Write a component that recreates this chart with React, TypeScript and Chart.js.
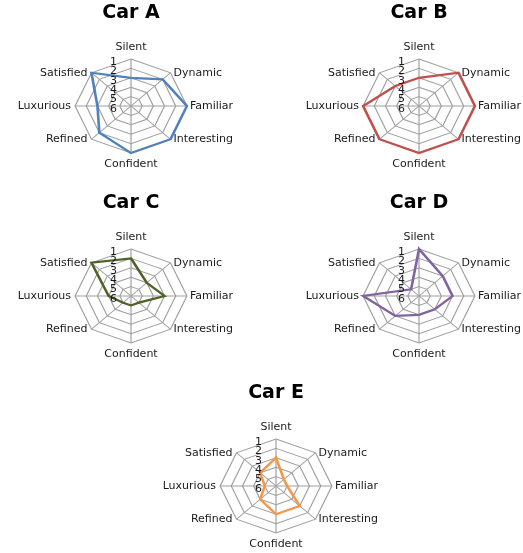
import React, { useEffect, useRef } from 'react';
import { Chart, registerables } from 'chart.js';

Chart.register(...registerables);

const axisLabels = ['Silent', 'Dynamic', 'Familiar', 'Interesting', 'Confident', 'Refined', 'Luxurious', 'Satisfied'];
const tickValues = [1, 2, 3, 4, 5, 6];

const carA = [3, 2, 1, 1, 1, 2, 3, 1];
const carB = [3, 1, 1, 1, 1, 1, 1, 3];
const carC = [2, 4, 3, 5, 5, 5, 4, 1];
const carD = [1, 3, 3, 4, 4, 3, 1, 5];
const carE = [3, 5, 5, 3, 3, 4, 5, 4];

const STRETCH = 1.19;
const GRID = '#9f9f9f';
const TEXT = '#1a1a1a';

type PanelProps = { title: string; data: number[]; color: string; left: number; top: number };

function RadarPanel({ title, data, color, left, top }: PanelProps) {
  const ref = useRef<HTMLCanvasElement>(null);
  useEffect(() => {
    const canvas = ref.current!;
    const stretchPlugin = {
      id: 'stretchAndLabels',
      beforeDraw(chart: any) {
        const s = chart.scales.r;
        const ctx = chart.ctx;
        ctx.save();
        ctx.translate(s.xCenter, 0);
        ctx.scale(STRETCH, 1);
        ctx.translate(-s.xCenter, 0);
      },
      afterDraw(chart: any) {
        const ctx = chart.ctx;
        ctx.restore();
        const s = chart.scales.r;
        const cx = s.xCenter;
        const cy = s.yCenter;
        ctx.save();
        ctx.fillStyle = TEXT;
        ctx.font = '11px "DejaVu Sans"';
        ctx.textAlign = 'right';
        ctx.textBaseline = 'middle';
        tickValues.forEach((v) => {
          const d = s.getDistanceFromCenterForValue(v);
          ctx.fillText(String(v), cx - 14, cy - d + 3);
        });
        axisLabels.forEach((lab, i) => {
          const p = s.getPointPosition(i, s.drawingArea);
          const x = cx + (p.x - cx) * STRETCH;
          const y = p.y;
          const dx = x - cx;
          if (Math.abs(dx) < 1) {
            ctx.textAlign = 'center';
            if (y < cy) {
              ctx.textBaseline = 'alphabetic';
              ctx.fillText(lab, x, y - 9);
            } else {
              ctx.textBaseline = 'top';
              ctx.fillText(lab, x, y + 6);
            }
          } else if (dx > 0) {
            ctx.textAlign = 'left';
            ctx.textBaseline = 'middle';
            ctx.fillText(lab, x + 3, y);
          } else {
            ctx.textAlign = 'right';
            ctx.textBaseline = 'middle';
            ctx.fillText(lab, x - 4, y);
          }
        });
        ctx.fillStyle = '#000';
        ctx.font = 'bold 19px "DejaVu Sans"';
        ctx.textAlign = 'center';
        ctx.textBaseline = 'alphabetic';
        ctx.fillText(title, cx, cy - 88);
        ctx.restore();
      },
    };
    const chart = new Chart(canvas, {
      type: 'radar',
      data: {
        labels: axisLabels,
        datasets: [
          {
            label: title,
            data,
            borderColor: color,
            backgroundColor: 'transparent',
            borderWidth: 2.2,
            fill: false,
            pointRadius: 0,
            pointHoverRadius: 0,
            clip: false,
          } as any,
        ],
      },
      options: {
        responsive: false,
        animation: false,
        layout: { padding: { left: 73, right: 72, top: 63, bottom: 42 } },
        plugins: {
          legend: { display: false },
          tooltip: { enabled: false },
          title: { display: false },
        },
        elements: { line: { tension: 0 } },
        scales: {
          r: {
            min: 1,
            max: 6,
            reverse: true,
            ticks: { display: false, reverse: true, stepSize: 1 } as any,
            pointLabels: { display: false },
            grid: { color: GRID, lineWidth: 1 },
            angleLines: { color: GRID, lineWidth: 1 },
          } as any,
        },
      },
      plugins: [stretchPlugin],
    });
    return () => chart.destroy();
  }, [title, data, color]);
  return (
    <canvas
      ref={ref}
      width={240}
      height={200}
      style={{ position: 'absolute', left, top, width: 240, height: 200 }}
    />
  );
}

export default function App() {
  return (
    <div
      style={{
        position: 'absolute',
        left: 0,
        top: 0,
        width: 523,
        height: 553,
        overflow: 'hidden',
        background: '#fff',
      }}
    >
      <RadarPanel title="Car A" data={carA} color="#4F81BD" left={11} top={-4} />
      <RadarPanel title="Car B" data={carB} color="#C0504D" left={299} top={-4} />
      <RadarPanel title="Car C" data={carC} color="#4F6228" left={11} top={186} />
      <RadarPanel title="Car D" data={carD} color="#8064A2" left={299} top={186} />
      <RadarPanel title="Car E" data={carE} color="#F79646" left={156} top={376} />
    </div>
  );
}
